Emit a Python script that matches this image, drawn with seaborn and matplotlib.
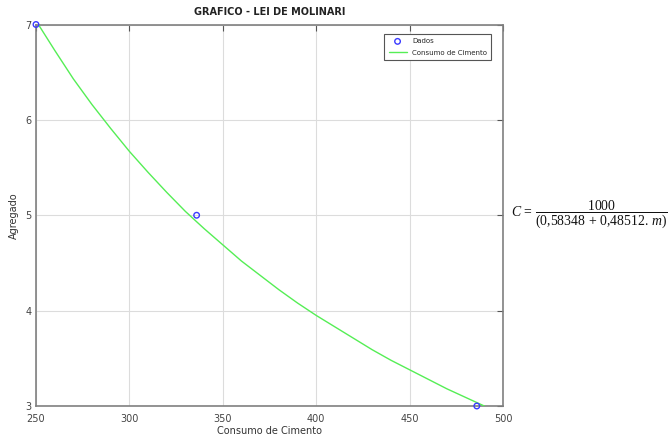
import matplotlib
matplotlib.use("Agg")
import matplotlib.pyplot as plt
import seaborn as sns
import pandas as pd

# Data points
dados_x = [250, 336, 486]
dados_y = [7.0, 5.0, 3.0]

# Fitted curve
curva_x = [250, 260, 270, 280, 290, 300, 310, 320, 330, 340, 350, 360, 370, 380,
           390, 400, 410, 420, 430, 440, 450, 460, 470, 480, 490]
curva_y = [7.04, 6.73, 6.43, 6.16, 5.91, 5.67, 5.45, 5.24, 5.04, 4.86, 4.69, 4.52,
           4.37, 4.22, 4.08, 3.95, 3.83, 3.71, 3.59, 3.48, 3.38, 3.28, 3.18, 3.09, 3.00]

x_ticks = [250, 300, 350, 400, 450, 500]
y_ticks = [3, 4, 5, 6, 7]

sns.set_theme(style="white")
plt.rcParams['font.family'] = ['DejaVu Sans']
plt.rcParams['mathtext.fontset'] = 'custom'
plt.rcParams['mathtext.rm'] = 'Liberation Serif'
plt.rcParams['mathtext.it'] = 'Liberation Serif:italic'

fig = plt.figure(figsize=(6.7, 4.36), dpi=100)
ax = fig.add_axes([0.0537, 0.0688, 0.697, 0.875])

df_pts = pd.DataFrame({"x": dados_x, "y": dados_y})
df_cur = pd.DataFrame({"x": curva_x, "y": curva_y})

sns.scatterplot(data=df_pts, x="x", y="y", ax=ax, marker="o", s=16,
                facecolor="none", edgecolor="#3a3aff", linewidth=1.0,
                label="Dados", zorder=4, clip_on=False)
sns.lineplot(data=df_cur, x="x", y="y", ax=ax, color="#55ee55", linewidth=1.0,
             label="Consumo de Cimento", zorder=3)

ax.set_xlim(250, 500)
ax.set_ylim(3, 7)
ax.set_xticks(x_ticks)
ax.set_yticks(y_ticks)
ax.grid(True, color="#dcdcdc", linewidth=0.8)
for s in ax.spines.values():
    s.set_color("#808080")
    s.set_linewidth(1.2)
ax.tick_params(direction="in", length=4, width=0.8, colors="#555555",
               labelsize=7, top=True, right=True, labelcolor="#444444")
ax.tick_params(axis="x", pad=6)
ax.tick_params(axis="y", pad=3)
ax.set_xlabel("Consumo de Cimento", fontsize=7, color="#333333", labelpad=1)
ax.set_ylabel("Agregado", fontsize=7, color="#333333", labelpad=5)
ax.set_title("GRAFICO - LEI DE MOLINARI", fontsize=7, fontweight="bold",
             color="#222222", pad=7)

leg = ax.legend(loc="upper right", fontsize=5, frameon=True, fancybox=False,
                edgecolor="#555555", framealpha=1, borderpad=0.6,
                handlelength=2.6, labelspacing=0.8, borderaxespad=0,
                bbox_to_anchor=(0.975, 0.975))
leg.get_frame().set_linewidth(0.8)

fig.text(0.997, 0.508,
         r"$C\,=\,\dfrac{1000}{(0{,}58348\,+\,0{,}48512.\,m)}$",
         ha="right", va="center", fontsize=9.9, color="#111111")

fig.savefig("out.png", dpi=100)
